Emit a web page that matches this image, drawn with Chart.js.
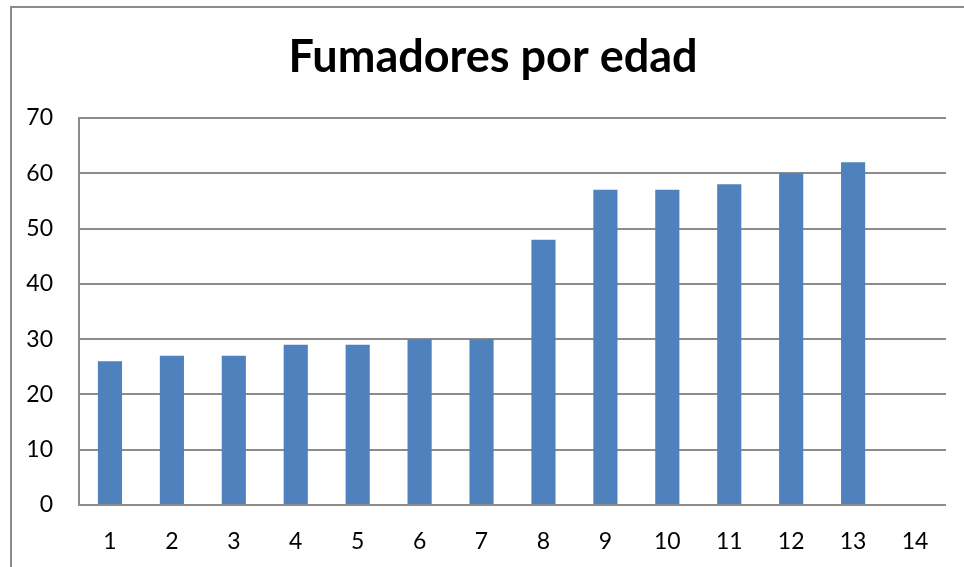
<!DOCTYPE html>
<html>
<head>
<meta charset="utf-8">
<script src="https://cdn.jsdelivr.net/npm/chart.js@4"></script>
<style>
  html, body { margin: 0; padding: 0; background: #fff; }
  #wrap { position: relative; width: 964px; height: 567px; overflow: hidden; }
  #frame { position: absolute; left: 10px; top: 6px; width: 1000px; height: 600px; border-left: 2px solid #8c8c8c; border-top: 2px solid #8c8c8c; }
  canvas { position: absolute; left: 0; top: 0; }
</style>
</head>
<body>
<div id="wrap">
  <div id="frame"></div>
  <canvas id="smokeChart" width="964" height="567"></canvas>
</div>
<script>
const ages = ["1", "2", "3", "4", "5", "6", "7", "8", "9", "10", "11", "12", "13", "14"];
const smokers = [26, 27, 27, 29, 29, 30, 30, 48, 57, 57, 58, 60, 62, null];
const yTicks = [0, 10, 20, 30, 40, 50, 60, 70];

const gridColor = "#8c8c8c";
const fontFamily = "Lato, 'Noto Sans', sans-serif";

// the title in the original sits a bit right of the plot's centre
const shiftTitle = {
  id: "shiftTitle",
  afterLayout(chart) {
    if (chart.titleBlock) chart.titleBlock.left = 40;
  },
};

const ctx = document.getElementById("smokeChart").getContext("2d");
new Chart(ctx, {
  type: "bar",
  data: {
    labels: ages,
    datasets: [
      {
        label: "Fumadores",
        data: smokers,
        backgroundColor: "#4f81bd",
        categoryPercentage: 1,
        barPercentage: 0.39,
      },
    ],
  },
  options: {
    responsive: false,
    animation: false,
    layout: { padding: { left: 0, right: 18, top: 0, bottom: 0 } },
    plugins: {
      legend: { display: false },
      tooltip: { enabled: false },
      title: {
        display: true,
        text: "Fumadores por edad",
        color: "#000",
        font: { family: fontFamily, size: 45, weight: "bold", lineHeight: 1.2 },
        padding: { top: 30, bottom: 34 },
      },
    },
    scales: {
      x: {
        grid: { display: false, drawTicks: false },
        border: { display: false },
        ticks: { color: "#000", font: { family: fontFamily, size: 23 }, padding: 23, maxRotation: 0 },
        afterFit: (scale) => { scale.height = 62; },
      },
      y: {
        min: 0,
        max: 70,
        afterBuildTicks: (scale) => { scale.ticks = yTicks.map((v) => ({ value: v })); },
        grid: { color: gridColor, lineWidth: 2, drawTicks: false },
        border: { display: true, color: gridColor, width: 2 },
        ticks: { color: "#000", font: { family: fontFamily, size: 23 }, padding: 26 },
        afterFit: (scale) => { scale.width = 79; },
      },
    },
  },
  plugins: [shiftTitle],
});
</script>
</body>
</html>
